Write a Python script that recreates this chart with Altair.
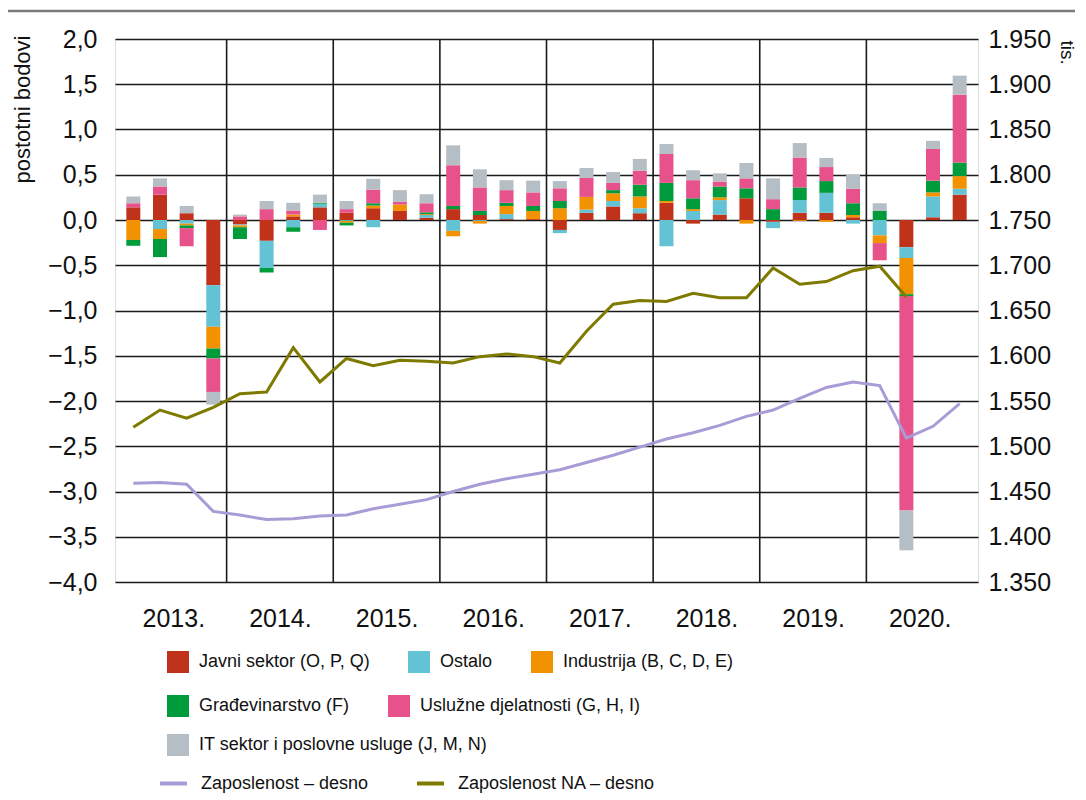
import altair as alt
import pandas as pd

# ---------------- data ----------------
year_labels = ["2013.", "2014.", "2015.", "2016.", "2017.", "2018.", "2019.", "2020."]

sectors = [
    "Javni sektor (O, P, Q)",
    "Ostalo",
    "Industrija (B, C, D, E)",
    "Građevinarstvo (F)",
    "Uslužne djelatnosti (G, H, I)",
    "IT sektor i poslovne usluge (J, M, N)",
]
sector_colors = ["#C0321A", "#63C3D4", "#F39200", "#009B3A", "#E8528A", "#B5BDC5"]

# quarterly contributions, 2013Q1 ... 2020Q4 (percentage points)
javni = [0.14, 0.28, 0.075, -0.72, -0.05, -0.23, 0.04, 0.14,
         0.08, 0.13, 0.10, 0.025, 0.12, 0.055, 0.01, 0.01,
         -0.11, 0.08, 0.15, 0.075, 0.19, -0.04, 0.06, 0.24,
         -0.02, 0.08, 0.08, 0.03, 0.0, -0.30, 0.03, 0.28]
ostalo = [0.0, -0.10, -0.04, -0.46, -0.01, -0.30, -0.08, 0.04,
          -0.01, -0.08, 0.0, 0.03, -0.12, -0.01, 0.055, 0.0,
          -0.035, 0.035, 0.06, 0.055, -0.29, 0.10, 0.16, 0.0,
          -0.07, 0.14, 0.22, -0.04, -0.17, -0.12, 0.23, 0.065]
industrija = [-0.22, -0.11, -0.02, -0.24, -0.02, 0.0, 0.02, 0.0,
              -0.02, 0.03, 0.07, 0.01, -0.06, -0.03, 0.09, 0.09,
              0.13, 0.14, 0.085, 0.13, 0.02, 0.02, 0.03, -0.04,
              0.0, -0.01, -0.02, 0.025, -0.085, -0.40, 0.045, 0.14]
gradevinarstvo = [-0.065, -0.20, -0.03, -0.11, -0.13, -0.05, -0.05, 0.01,
                  -0.03, 0.025, 0.0, 0.02, 0.035, 0.045, 0.035, 0.055,
                  0.08, 0.0, 0.035, 0.13, 0.20, 0.12, 0.12, 0.11,
                  0.12, 0.14, 0.13, 0.13, 0.10, -0.02, 0.13, 0.15]
usluzne = [0.045, 0.09, -0.20, -0.37, 0.04, 0.12, 0.045, -0.11,
           0.04, 0.15, 0.03, 0.10, 0.45, 0.26, 0.14, 0.15,
           0.14, 0.21, 0.08, 0.155, 0.32, 0.20, 0.055, 0.11,
           0.11, 0.33, 0.155, 0.16, -0.19, -2.37, 0.35, 0.75]
it_sektor = [0.075, 0.09, 0.08, -0.14, 0.02, 0.09, 0.085, 0.09,
             0.09, 0.12, 0.13, 0.10, 0.22, 0.20, 0.11, 0.13,
             0.08, 0.11, 0.12, 0.13, 0.11, 0.11, 0.09, 0.17,
             0.23, 0.16, 0.10, 0.155, 0.085, -0.44, 0.09, 0.21]

line_names = ["Zaposlenost – desno", "Zaposlenost NA – desno"]
line_colors = ["#A99CD6", "#7E7A00"]
# thousands of persons, right axis
zaposlenost = [1459, 1460, 1458, 1428, 1424, 1419, 1420, 1423,
               1424, 1431, 1436, 1441, 1450, 1458, 1464, 1469,
               1474, 1482, 1490, 1499, 1508, 1515, 1523, 1533,
               1540, 1553, 1565, 1571, 1567, 1509, 1522, 1547]
zaposlenost_na = [1521, 1540, 1531, 1543, 1558, 1560, 1609, 1571,
                  1597, 1589, 1595, 1594, 1592, 1599, 1602, 1599,
                  1592, 1627, 1657, 1661, 1660, 1669, 1664, 1664,
                  1697, 1679, 1682, 1694, 1699, 1665, None, None]

year_bounds = [4, 8, 12, 16, 20, 24, 28]
year_centers = [2, 6, 10, 14, 18, 22, 26, 30]

# ---------------- tables ----------------
rows = []
for k, (name, vals) in enumerate(zip(sectors, [javni, ostalo, industrija, gradevinarstvo, usluzne, it_sektor])):
    for i, v in enumerate(vals):
        rows.append({"t": i + 0.5, "sector": name, "value": v, "order": k})
bars_df = pd.DataFrame(rows)

lrows = []
for name, vals in zip(line_names, [zaposlenost, zaposlenost_na]):
    for i, v in enumerate(vals):
        if v is not None:
            lrows.append({"t": i + 0.5, "series": name, "emp": v})
lines_df = pd.DataFrame(lrows)

grid_df = pd.DataFrame({"t": year_bounds})

FONT = "Liberation Sans, Arial, sans-serif"
LEG_SIZE = 18

label_expr_x = "[" + ",".join("'%s'" % y for y in year_labels) + "][floor(datum.value / 4)]"

x_enc = alt.X(
    "t:Q",
    scale=alt.Scale(domain=[0, 32], nice=False, zero=False),
    axis=alt.Axis(values=year_centers, labelExpr=label_expr_x, grid=False, ticks=False,
                  domain=False, title=None, labelFontSize=25, labelPadding=24,
                  labelFont=FONT, labelColor="#111"),
)

y_left = alt.Y(
    "y0:Q",
    scale=alt.Scale(domain=[-4, 2], nice=False, zero=False),
    axis=alt.Axis(
        values=[-4 + 0.5 * i for i in range(13)],
        labelExpr="replace(format(datum.value, '.1f'), '.', ',')",
        grid=True, gridColor="#1a1a1a", gridWidth=1.6,
        ticks=False, domain=False,
        labelFontSize=25, labelPadding=18, labelFont=FONT, labelColor="#111",
        title="postotni bodovi", titleFontSize=22, titleFontWeight="normal",
        titleFont=FONT, titleColor="#111",
        titleAngle=-90, titleX=-93, titleY=-4, titleAlign="right", titleBaseline="middle",
    ),
)

base = alt.Chart(bars_df).transform_stack(
    stack="value", groupby=["t"], as_=["y0", "y1"],
    sort=[alt.SortField(field="order", order="ascending")],
)

rules = alt.Chart(grid_df).mark_rule(color="#1a1a1a", strokeWidth=1.6).encode(x=x_enc)

legend_common = dict(
    title=None, orient="none", direction="horizontal", gridAlign="none",
    symbolType="square", symbolSize=484, symbolStrokeWidth=0,
    labelFontSize=LEG_SIZE, labelFont=FONT, labelColor="#111", labelOffset=10,
    columnPadding=38, labelLimit=500,
)


def bar_group(names, colors, legend_y):
    return base.transform_filter(
        alt.FieldOneOfPredicate(field="sector", oneOf=names)
    ).mark_bar(size=14).encode(
        x=x_enc, y=y_left, y2="y1:Q",
        color=alt.Color(
            "sector:N",
            scale=alt.Scale(domain=names, range=colors),
            legend=alt.Legend(legendX=52, legendY=legend_y, columns=len(names), **legend_common),
        ),
    )


bars_row1 = bar_group(sectors[:3], sector_colors[:3], 612)
bars_row2 = bar_group(sectors[3:5], sector_colors[3:5], 656)
bars_row3 = bar_group(sectors[5:], sector_colors[5:], 695)

lines = alt.Chart(lines_df).mark_line(strokeWidth=3).encode(
    x=x_enc,
    y=alt.Y(
        "emp:Q",
        scale=alt.Scale(domain=[1350, 1950], nice=False, zero=False),
        axis=alt.Axis(
            orient="right",
            values=[1350 + 50 * i for i in range(13)],
            labelExpr="replace(format(datum.value, ','), ',', '.')",
            grid=False, ticks=False, domain=False,
            labelFontSize=25, labelPadding=10, labelFont=FONT, labelColor="#111",
            title="tis.", titleFontSize=19, titleFontWeight="normal", titleFont=FONT,
            titleColor="#111", titleAngle=90, titleX=88, titleY=1, titleAlign="left",
            titleBaseline="middle",
        ),
    ),
    color=alt.Color(
        "series:N",
        scale=alt.Scale(domain=line_names, range=line_colors),
        legend=alt.Legend(
            title=None, orient="none", legendX=43, legendY=729, columns=2,
            direction="horizontal", gridAlign="none",
            symbolType="stroke", symbolSize=729, symbolStrokeWidth=4,
            labelFontSize=LEG_SIZE, labelFont=FONT, labelColor="#111", labelOffset=12,
            columnPadding=40, labelLimit=500,
        ),
    ),
    order="t:Q",
)

top_rule = alt.Chart(pd.DataFrame({"a": [0]})).mark_rule(color="#7a7a7a", strokeWidth=2.5).encode(
    x=alt.value(-107), x2=alt.value(960), y=alt.value(-28)
)

left_layer = alt.layer(rules, bars_row1, bars_row2, bars_row3).resolve_scale(color="independent")
chart = alt.layer(left_layer, lines, top_rule).resolve_scale(
    y="independent", color="independent"
).properties(
    width=863, height=543,
    autosize=alt.AutoSizeParams(type="none"),
    padding={"left": 107, "top": 31, "right": 100, "bottom": 212},
).configure_view(stroke="#111", strokeWidth=2).configure(background="white")

chart.save("out.html", embed_options={"renderer": "svg", "actions": False})
